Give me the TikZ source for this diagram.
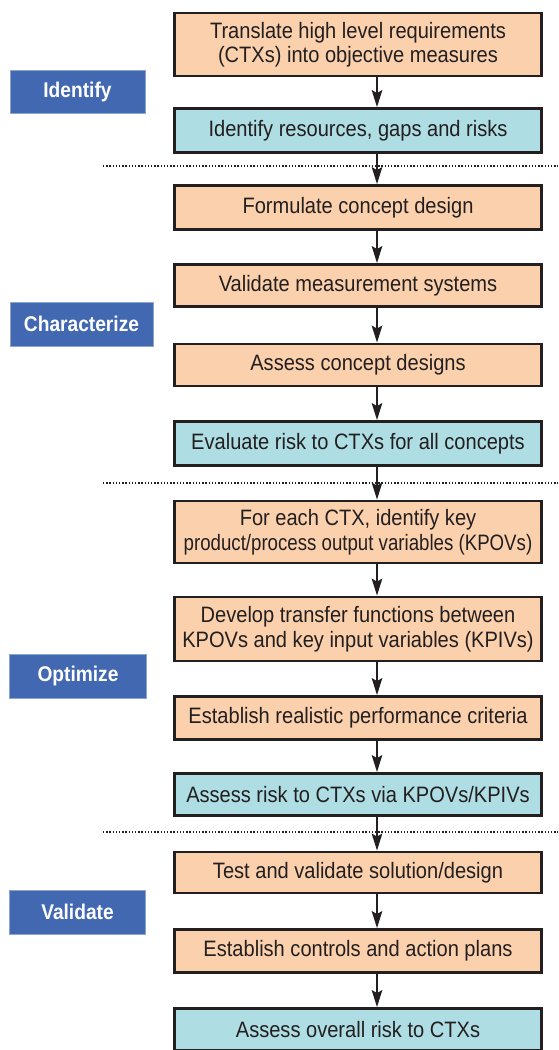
\documentclass[tikz,border=0pt]{standalone}
\usepackage{fontspec}
\setmainfont{Liberation Sans}[FakeStretch=0.9]
\usetikzlibrary{arrows.meta}
\definecolor{inkdark}{HTML}{231F20}
\definecolor{peach}{HTML}{FBD0AC}
\definecolor{aqua}{HTML}{AEDDE3}
\definecolor{phaseblue}{HTML}{4168B1}
\tikzset{
  x=1pt, y=-1pt,
  stepbase/.style={draw=inkdark, line width=2.8pt, minimum width=367pt,
    align=center, text=inkdark, inner sep=0pt,
    font=\fontsize{22.3}{24.5}\selectfont},
  taskbox/.style={stepbase, fill=peach},
  riskbox/.style={stepbase, fill=aqua},
  phase/.style={fill=phaseblue, draw=phaseblue!60!white, line width=0.6pt,
    text=white, inner sep=0pt, font=\fontsize{21.3}{24}\selectfont\bfseries},
  flow/.style={draw=inkdark, line width=2pt,
    -{Stealth[length=17pt,width=10.5pt,inset=3pt]}},
  divider/.style={draw=inkdark, line width=1.6pt,
    dash pattern=on 1.3pt off 1.9pt}
}
\begin{document}
\begin{tikzpicture}
\useasboundingbox (0,0) rectangle (559,1050);

% arrow column
\coordinate (ax) at (377,0);

% phase dividers
\coordinate (d1a) at (103,166);  \coordinate (d1b) at (558,166);
\coordinate (d2a) at (103,483);  \coordinate (d2b) at (558,483);
\coordinate (d3a) at (103,832);  \coordinate (d3b) at (558,832);
\draw[divider] (d1a) -- (d1b);
\draw[divider] (d2a) -- (d2b);
\draw[divider] (d3a) -- (d3b);

% phase labels
\node[phase, minimum width=135pt, minimum height=43pt] (pI) at (77.5,91.5) {Identify};
\node[phase, minimum width=143pt, minimum height=44pt] (pC) at (81.5,324) {Characterize};
\node[phase, minimum width=137pt, minimum height=44pt] (pO) at (78,676) {Optimize};
\node[phase, minimum width=136pt, minimum height=44pt] (pV) at (77.5,912) {Validate};

% steps
\node[taskbox, minimum height=63pt] (s1) at (358,44.5)
  {Translate high level requirements\\(CTXs) into objective measures};
\node[riskbox, minimum height=44pt] (s2) at (358,130.5)
  {Identify resources, gaps and risks};
\node[taskbox, minimum height=44pt] (s3) at (358,207.5)
  {Formulate concept design};
\node[taskbox, minimum height=42pt] (s4) at (358,285.5)
  {Validate measurement systems};
\node[taskbox, minimum height=42pt] (s5) at (358,365)
  {Assess concept designs};
\node[riskbox, minimum height=44pt] (s6) at (358,443.5)
  {Evaluate risk to CTXs for all concepts};
\node[taskbox, minimum height=62pt] (s7) at (358,532)
  {For each CTX, identify key\\\scalebox{0.93}[1]{product/process output variables (KPOVs)}};
\node[taskbox, minimum height=64pt] (s8) at (358,629)
  {Develop transfer functions between\\KPOVs and key input variables (KPIVs)};
\node[taskbox, minimum height=43pt] (s9) at (358,718)
  {Establish realistic performance criteria};
\node[riskbox, minimum height=42pt] (s10) at (358,794.5)
  {Assess risk to CTXs via KPOVs/KPIVs};
\node[taskbox, minimum height=41pt] (s11) at (358,872.5)
  {Test and validate solution/design};
\node[taskbox, minimum height=43pt] (s12) at (358,951)
  {Establish controls and action plans};
\node[riskbox, minimum height=42pt] (s13) at (358,1029.5)
  {Assess overall risk to CTXs};

% flow arrows
\foreach \a/\b in {s1/s2, s2/s3, s3/s4, s4/s5, s5/s6, s6/s7, s7/s8,
                   s8/s9, s9/s10, s10/s11, s11/s12, s12/s13}
  \draw[flow] (\a.south -| ax) -- (\b.north -| ax);
\end{tikzpicture}
\end{document}
